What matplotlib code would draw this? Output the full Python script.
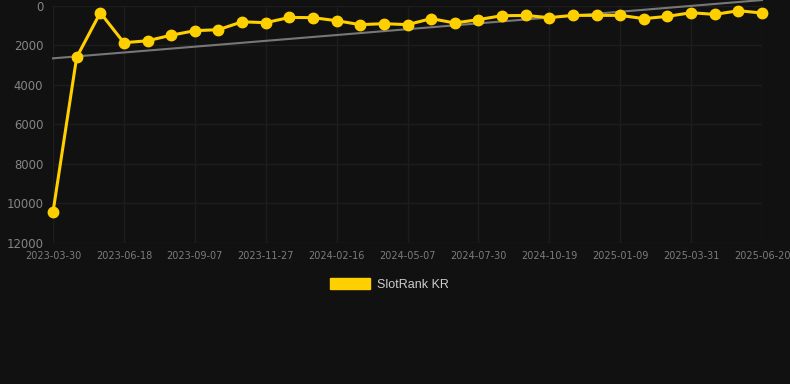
import matplotlib.pyplot as plt
import matplotlib.patches as mpatches

# rank values, one point per ~27 days
ranks = [10430, 2600, 340, 1860, 1760, 1480, 1250, 1200, 800, 845,
         580, 590, 745, 945, 895, 945, 640, 860, 690, 490,
         480, 590, 475, 475, 475, 640, 525, 340, 425, 240, 355]
tick_labels = ['2023-03-30', '2023-06-18', '2023-09-07', '2023-11-27',
               '2024-02-16', '2024-05-07', '2024-07-30', '2024-10-19',
               '2025-01-09', '2025-03-31', '2025-06-20']
trend = [2650, -300]

x = list(range(len(ranks)))
bg = '#111111'

fig = plt.figure(figsize=(7.9, 3.84), dpi=100, facecolor=bg)
ax = fig.add_axes([0.0671, 0.3672, 0.8975, 0.6172])
ax.set_facecolor(bg)
plt.rcParams['font.family'] = ['Liberation Sans', 'DejaVu Sans']

ax.plot([x[0], x[-1]], trend, color='#777777', lw=1.5, clip_on=False, zorder=2)
ax.plot(x, ranks, color='#ffd000', lw=2.2, marker='o', markersize=7.5,
        clip_on=False, zorder=3)

ax.set_ylim(12000, 0)
ax.set_xlim(0, len(ranks) - 1)
ax.set_yticks(range(0, 12001, 2000))
ax.set_xticks(x[::3])
ax.set_xticklabels(tick_labels)
ax.tick_params(axis='y', length=0, pad=7, labelsize=8.4, labelcolor='#858585')
ax.tick_params(axis='x', length=0, pad=6, labelsize=7, labelcolor='#7c7c7c')
ax.grid(color='#1d1d1d', lw=1)
for s in ax.spines.values():
    s.set_visible(False)

patch = mpatches.Patch(color='#ffd000', label='SlotRank KR')
leg = fig.legend(handles=[patch], loc='center', bbox_to_anchor=(0.493, 0.26),
                 frameon=False, fontsize=9, handlelength=3.2, handleheight=0.95,
                 handletextpad=0.5)
for t in leg.get_texts():
    t.set_color('#cccccc')

fig.savefig('out.png', dpi=100, facecolor=bg)
